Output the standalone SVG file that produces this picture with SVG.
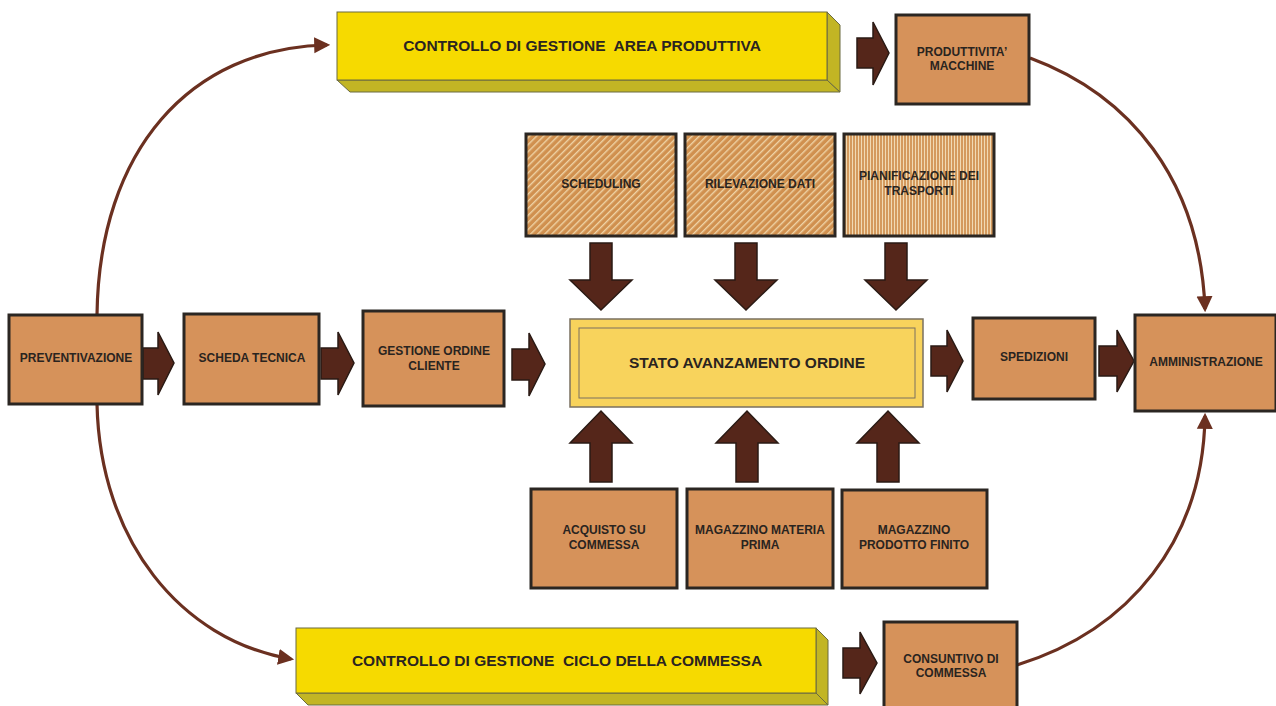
<svg xmlns="http://www.w3.org/2000/svg" width="1276" height="706" viewBox="0 0 1276 706">
<style>
.box{fill:#D6925A;stroke:#2b2622;stroke-width:3}
.t{font-family:"Liberation Sans",Arial,sans-serif;font-weight:bold;font-size:12px;fill:#2a2420;text-anchor:middle}
.big{font-size:15.5px}
.arr{fill:#55261a;stroke:#2a1a14;stroke-width:1.5;stroke-linejoin:miter}
.cur{fill:none;stroke:#6b3020;stroke-width:3.2}
.front{fill:#F6DA00;stroke:#6a6a40;stroke-width:1}
.side{fill:#C2B524;stroke:#6a6a40;stroke-width:1}
</style>
<defs>
<pattern id="diag" width="5" height="5" patternUnits="userSpaceOnUse" patternTransform="rotate(45)">
<rect width="5" height="5" fill="#D0904F"/>
<rect width="1.4" height="5" fill="#EFD3A6"/>
</pattern>
<pattern id="vert" width="3" height="3" patternUnits="userSpaceOnUse">
<rect width="3" height="3" fill="#D49A5E"/>
<rect width="1" height="3" fill="#F1DAB4"/>
</pattern>
<marker id="ah2" viewBox="0 0 10 10" refX="8" refY="5" markerWidth="5" markerHeight="6" orient="auto">
<path d="M0,0 L10,5 L0,10 Z" fill="#6b3020"/>
</marker>
</defs>
<rect width="1276" height="706" fill="#ffffff"/>

<g id="connectors">
<path class="cur" d="M97,315 C99,150 190,48 327,45" marker-end="url(#ah2)"/>
<path class="cur" d="M1030,58 C1130,95 1200,180 1205,309" marker-end="url(#ah2)"/>
<path class="cur" d="M97,404 C100,540 180,640 291,659" marker-end="url(#ah2)"/>
<path class="cur" d="M1017,665 C1130,630 1203,540 1205,416" marker-end="url(#ah2)"/>
<polygon class="arr" points="143,348 158,348 158,332 174,363 158,395 158,379 143,379"/>
<polygon class="arr" points="321,348 338,348 338,332 354,363 338,395 338,379 321,379"/>
<polygon class="arr" points="512,349 529,349 529,333 545,364 529,396 529,380 512,380"/>
<polygon class="arr" points="931,346 947,346 947,330 963,361 947,392 947,376 931,376"/>
<polygon class="arr" points="1099,346 1117,346 1117,330 1134,361 1117,392 1117,376 1099,376"/>
<polygon class="arr" points="857,38 873,38 873,22 889,53 873,85 873,68 857,68"/>
<polygon class="arr" points="843,648 860,648 860,632 877,663 860,694 860,678 843,678"/>
<polygon class="arr" points="590,243 612,243 612,280 632,280 601,310 570,280 590,280"/>
<polygon class="arr" points="735,243 757,243 757,280 777,280 746,310 715,280 735,280"/>
<polygon class="arr" points="885,243 907,243 907,280 927,280 896,310 865,280 885,280"/>
<polygon class="arr" points="590,482 612,482 612,443 632,443 601,411 570,443 590,443"/>
<polygon class="arr" points="736,482 758,482 758,443 778,443 747,411 716,443 736,443"/>
<polygon class="arr" points="877,482 899,482 899,443 919,443 888,411 857,443 877,443"/>
</g>

<g id="bar-area-produttiva">
<polygon class="side" points="337,80 827,80 840,92 350,92"/>
<polygon class="side" points="827,12 840,25 840,92 827,80"/>
<rect class="front" x="337" y="12" width="490" height="68"/>
<text class="t big" x="582" y="51" xml:space="preserve">CONTROLLO DI GESTIONE  AREA PRODUTTIVA</text>
</g>

<g id="produttivita">
<rect class="box" x="896" y="15" width="133" height="89"/>
<text class="t" x="962" y="56">PRODUTTIVITA’</text>
<text class="t" x="962" y="70">MACCHINE</text>
</g>

<g id="scheduling">
<rect x="526" y="134" width="150" height="102" fill="url(#diag)" stroke="#2b2622" stroke-width="3"/>
<text class="t" x="601" y="188">SCHEDULING</text>
</g>
<g id="rilevazione">
<rect x="685" y="134" width="150" height="102" fill="url(#diag)" stroke="#2b2622" stroke-width="3"/>
<text class="t" x="760" y="188">RILEVAZIONE DATI</text>
</g>
<g id="pianificazione">
<rect x="844" y="134" width="150" height="102" fill="url(#vert)" stroke="#2b2622" stroke-width="3"/>
<text class="t" x="919" y="180">PIANIFICAZIONE DEI</text>
<text class="t" x="919" y="195">TRASPORTI</text>
</g>

<g id="preventivazione">
<rect class="box" x="9" y="315" width="133" height="89"/>
<text class="t" x="76" y="362">PREVENTIVAZIONE</text>
</g>
<g id="scheda-tecnica">
<rect class="box" x="184" y="314" width="135" height="90"/>
<text class="t" x="252" y="362">SCHEDA TECNICA</text>
</g>
<g id="gestione-ordine">
<rect class="box" x="363" y="311" width="141" height="95"/>
<text class="t" x="434" y="355">GESTIONE ORDINE</text>
<text class="t" x="434" y="370">CLIENTE</text>
</g>
<g id="stato">
<rect x="570" y="319" width="353" height="88" fill="#F8D35C" stroke="#7a7060" stroke-width="1.5"/>
<rect x="579" y="328" width="336" height="70" fill="none" stroke="#7a7060" stroke-width="1"/>
<text class="t big" x="747" y="368">STATO AVANZAMENTO ORDINE</text>
</g>
<g id="spedizioni">
<rect class="box" x="973" y="318" width="122" height="81"/>
<text class="t" x="1034" y="361">SPEDIZIONI</text>
</g>
<g id="amministrazione">
<rect class="box" x="1135" y="315" width="141" height="96"/>
<text class="t" x="1206" y="366">AMMINISTRAZIONE</text>
</g>

<g id="acquisto">
<rect class="box" x="531" y="489" width="146" height="99"/>
<text class="t" x="604" y="534">ACQUISTO SU</text>
<text class="t" x="604" y="549">COMMESSA</text>
</g>
<g id="mag-materia">
<rect class="box" x="687" y="489" width="146" height="99"/>
<text class="t" x="760" y="534">MAGAZZINO MATERIA</text>
<text class="t" x="760" y="549">PRIMA</text>
</g>
<g id="mag-prodotto">
<rect class="box" x="842" y="490" width="145" height="98"/>
<text class="t" x="914" y="534">MAGAZZINO</text>
<text class="t" x="914" y="549">PRODOTTO FINITO</text>
</g>

<g id="bar-ciclo-commessa">
<polygon class="side" points="296,693 816,693 828,705 308,705"/>
<polygon class="side" points="816,628 828,640 828,705 816,693"/>
<rect class="front" x="296" y="628" width="520" height="65"/>
<text class="t big" x="557" y="666" xml:space="preserve">CONTROLLO DI GESTIONE  CICLO DELLA COMMESSA</text>
</g>

<g id="consuntivo">
<rect class="box" x="884" y="622" width="133" height="90"/>
<text class="t" x="951" y="663">CONSUNTIVO DI</text>
<text class="t" x="951" y="677">COMMESSA</text>
</g>
</svg>
